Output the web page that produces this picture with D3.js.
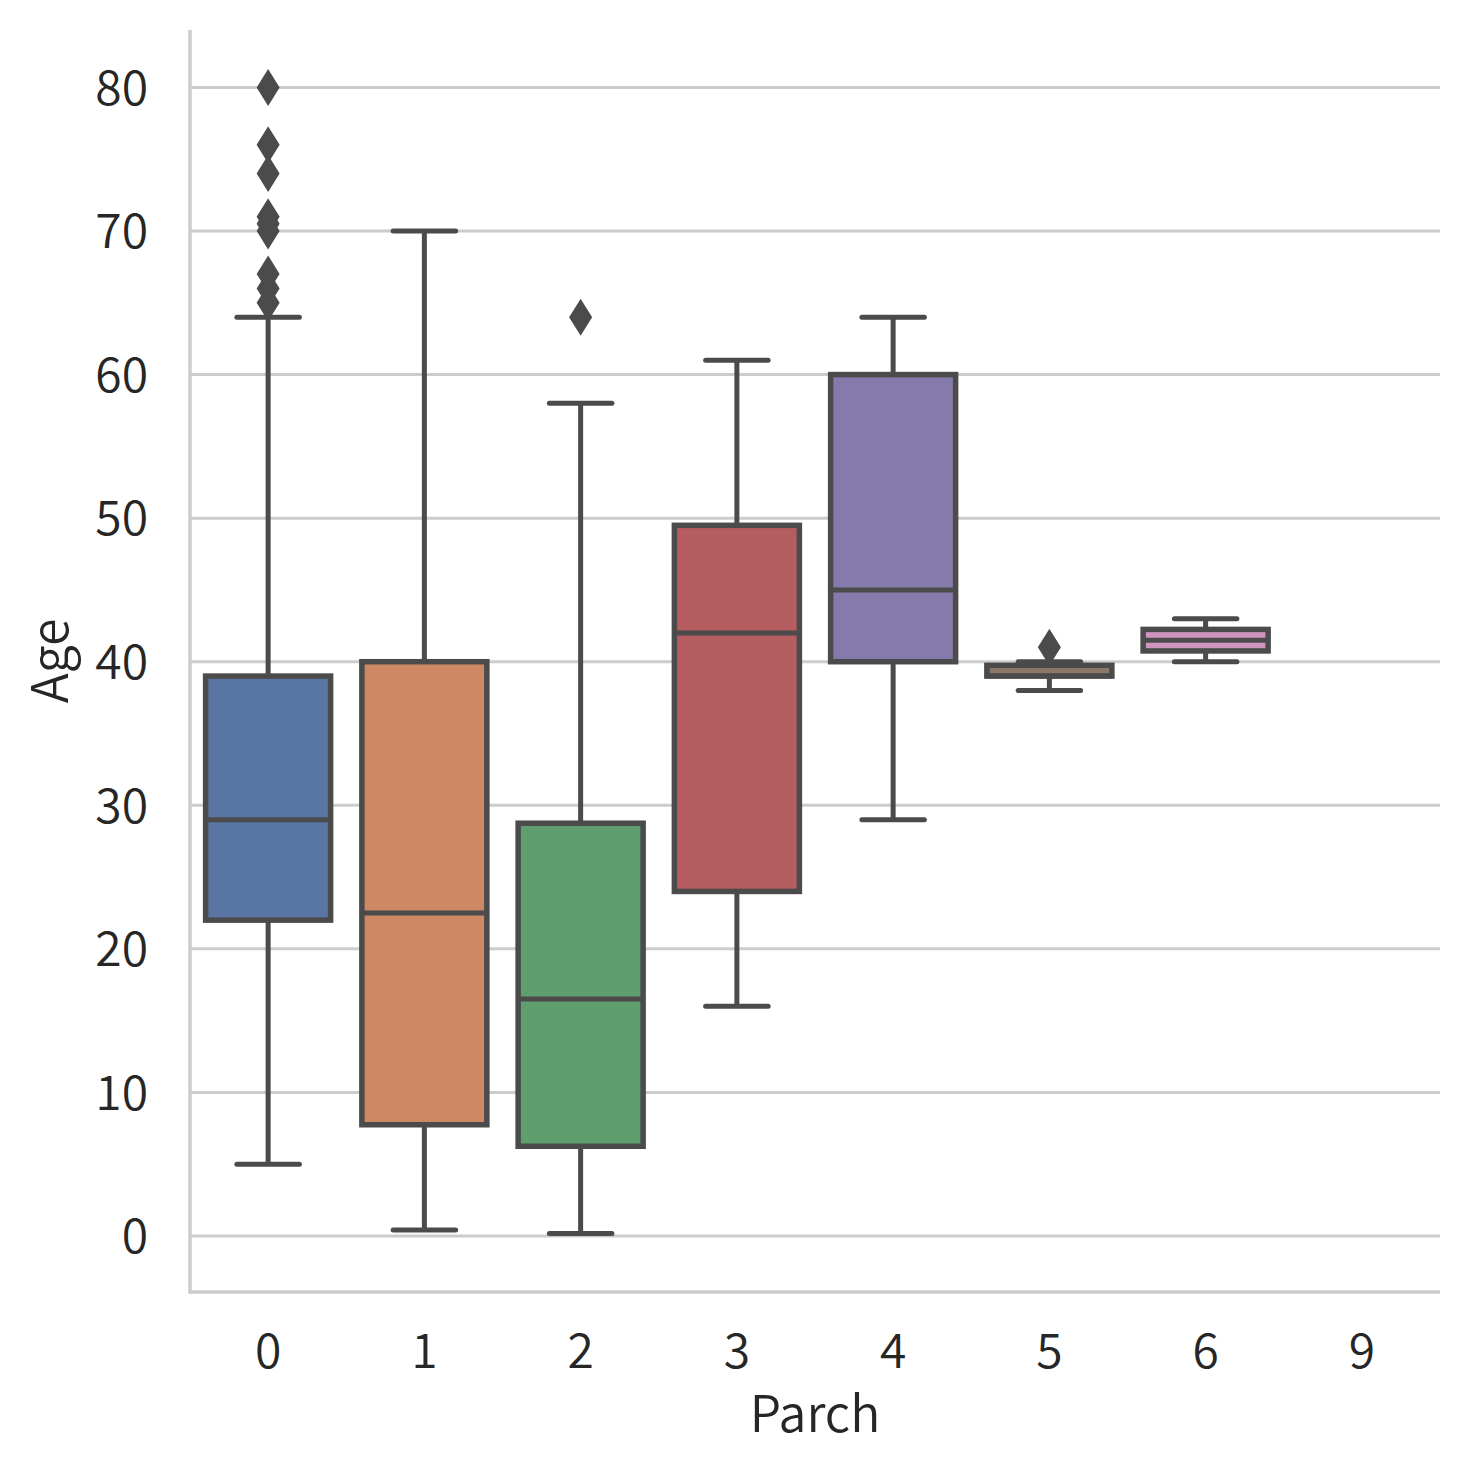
<!DOCTYPE html>
<html><head><meta charset="utf-8">
<script src="https://cdn.jsdelivr.net/npm/d3@7"></script>
<style>body{margin:0;background:#fff;} svg{display:block;}</style>
</head><body>
<svg id="c" width="1470" height="1470"></svg>
<script>
const categories = ["0","1","2","3","4","5","6","9"];
const q1 =          [22, 7.75, 6.25, 24, 40, 39, 40.75, null];
const medians =     [29, 22.5, 16.5, 42, 45, 39, 41.5, null];
const q3 =          [39, 40, 28.75, 49.5, 60, 39.75, 42.25, null];
const whiskerLow =  [5, 0.42, 0.17, 16, 29, 38, 40, null];
const whiskerHigh = [64, 70, 58, 61, 64, 40, 43, null];
const outliers = [[80, 76, 74, 71, 70.5, 70, 67, 66, 65], [], [64], [], [], [41], [], []];
const colors = ["#5875a4", "#cc8963", "#5f9e6e", "#b55d60", "#857aab", "#8d7866", "#d095bf", "#8c8c8c"];
const yTicks = [0, 10, 20, 30, 40, 50, 60, 70, 80];

const svg = d3.select("#c");
const L = 190, R = 1440, T = 30, B = 1292;
const font = "'Noto Sans CJK KR', sans-serif";
const fw = 350;
const edge = "#4b4b4b";

const x = d3.scaleBand().domain(categories).range([L, R]).padding(0);
const y = d3.scaleLinear().domain([-3.9, 84]).range([B, T]);

// grid
svg.append("g").selectAll("line").data(yTicks).join("line")
  .attr("x1", L).attr("x2", R)
  .attr("y1", d => y(d)).attr("y2", d => y(d))
  .attr("stroke", "#cccccc").attr("stroke-width", 3);

// y axis
const yAxis = svg.append("g").attr("transform", `translate(${L},0)`)
  .call(d3.axisLeft(y).tickValues(yTicks).tickSize(0).tickPadding(42));
yAxis.select(".domain").remove();
yAxis.selectAll("text").attr("font-family", font).attr("font-size", 48).attr("font-weight", fw).attr("fill", "#262626").attr("dy", "0.35em");

// x axis
const xAxis = svg.append("g").attr("transform", `translate(0,${B})`)
  .call(d3.axisBottom(x).tickSize(0).tickPadding(42));
xAxis.select(".domain").remove();
xAxis.selectAll("text").attr("font-family", font).attr("font-size", 48).attr("font-weight", fw).attr("fill", "#262626");

// spines
svg.append("line").attr("x1", L).attr("x2", L).attr("y1", T).attr("y2", B + 1.5)
  .attr("stroke", "#cccccc").attr("stroke-width", 3.5);
svg.append("line").attr("x1", L - 1.5).attr("x2", R).attr("y1", B).attr("y2", B)
  .attr("stroke", "#cccccc").attr("stroke-width", 3.5);

// labels
svg.append("text").attr("x", (L + R) / 2).attr("y", 1432).attr("text-anchor", "middle")
  .attr("font-family", font).attr("font-size", 50).attr("font-weight", fw).attr("fill", "#262626").text("Parch");
svg.append("text").attr("transform", `translate(68,${(T + B) / 2}) rotate(-90)`)
  .attr("text-anchor", "middle").attr("font-family", font).attr("font-size", 50).attr("font-weight", fw)
  .attr("fill", "#262626").text("Age");

const bw = x.bandwidth() * 0.8;
const sw = 5;
categories.forEach((c, i) => {
  if (q1[i] == null) return;
  const cx = x(c) + x.bandwidth() / 2;
  const g = svg.append("g");
  // whiskers
  g.append("line").attr("x1", cx).attr("x2", cx).attr("y1", y(q1[i])).attr("y2", y(whiskerLow[i]))
    .attr("stroke", edge).attr("stroke-width", sw);
  g.append("line").attr("x1", cx).attr("x2", cx).attr("y1", y(q3[i])).attr("y2", y(whiskerHigh[i]))
    .attr("stroke", edge).attr("stroke-width", sw);
  [whiskerLow[i], whiskerHigh[i]].forEach(v => {
    g.append("line").attr("x1", cx - bw / 4).attr("x2", cx + bw / 4).attr("y1", y(v)).attr("y2", y(v))
      .attr("stroke", edge).attr("stroke-width", sw).attr("stroke-linecap", "round");
  });
  // box
  g.append("rect").attr("x", cx - bw / 2).attr("width", bw)
    .attr("y", y(q3[i])).attr("height", y(q1[i]) - y(q3[i]))
    .attr("fill", colors[i]).attr("stroke", edge).attr("stroke-width", 5.5);
  // median
  g.append("line").attr("x1", cx - bw / 2).attr("x2", cx + bw / 2)
    .attr("y1", y(medians[i])).attr("y2", y(medians[i]))
    .attr("stroke", edge).attr("stroke-width", sw);
  // outliers (thin diamonds)
  outliers[i].forEach(v => {
    const py = y(v), hw = 11.5, hh = 18.5;
    g.append("path").attr("d", `M${cx},${py - hh}L${cx + hw},${py}L${cx},${py + hh}L${cx - hw},${py}Z`)
      .attr("fill", edge);
  });
});
</script>
</body></html>
